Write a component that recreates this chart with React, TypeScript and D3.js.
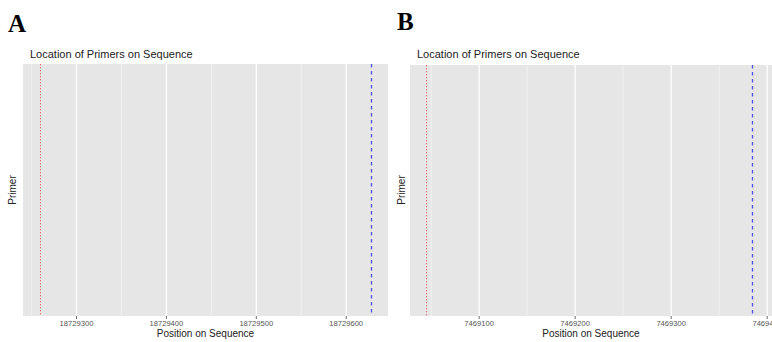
import React from "react";
import * as d3 from "d3";

const panelLabels = ["A", "B"];
const chartTitle = "Location of Primers on Sequence";
const xTitle = "Position on Sequence";
const yTitle = "Primer";
const ticksA = [18729300, 18729400, 18729500, 18729600];
const minorA = [18729250, 18729350, 18729450, 18729550];
const ticksB = [7469100, 7469200, 7469300, 7469400];
const minorB = [7469050, 7469150, 7469250, 7469350];
const forwardPos = [18729259, 7469045];
const reversePos = [18729628, 7469384];
const domainA = [18729240.5, 18729646.5];
const domainB = [7469028, 7469405];

type PanelProps = {
  label: string;
  ox: number;
  left: number;
  right: number;
  top: number;
  bottom: number;
  domain: number[];
  ticks: number[];
  minor: number[];
  fwd: number;
  rev: number;
  labelY: number;
};

const snap = (v: number) => Math.round(v) + 0.5;

function Panel(p: PanelProps) {
  const x = d3.scaleLinear().domain(p.domain).range([p.left, p.right]);
  const font = "'Liberation Sans', Arial, sans-serif";
  return (
    <g>
      <text x={p.ox + 8} y={p.labelY} fontFamily="'Liberation Serif', 'Times New Roman', serif" fontWeight="bold" fontSize={25} fill="#000">
        {p.label}
      </text>
      <text x={p.left + 7} y={58} fontFamily={font} fontSize={11} fill="#222">
        {chartTitle}
      </text>
      <rect x={p.left} y={p.top} width={p.right - p.left} height={p.bottom - p.top} fill="#e6e6e6" />
      {p.minor.map((v) => (
        <line key={"m" + v} x1={x(v)} x2={x(v)} y1={p.top} y2={p.bottom} stroke="#f3f3f3" strokeWidth={0.8} />
      ))}
      {p.ticks.map((v) => (
        <line key={"g" + v} x1={x(v)} x2={x(v)} y1={p.top} y2={p.bottom} stroke="#ffffff" strokeWidth={1.3} />
      ))}
      <line x1={snap(x(p.fwd))} x2={snap(x(p.fwd))} y1={p.top} y2={p.bottom} stroke="#e86a6a" strokeWidth={1} strokeDasharray="1.3,1.7" />
      <line x1={snap(x(p.rev))} x2={snap(x(p.rev))} y1={p.top} y2={p.bottom} stroke="#5050ee" strokeWidth={1.3} strokeDasharray="3.5,3.5" />
      {p.ticks.map((v) => (
        <g key={"t" + v}>
          <line x1={x(v)} x2={x(v)} y1={p.bottom} y2={p.bottom + 3} stroke="#444" strokeWidth={0.8} />
          <text x={x(v)} y={p.bottom + 10} textAnchor="middle" fontFamily={font} fontSize={7.6} fill="#555">
            {String(v)}
          </text>
        </g>
      ))}
      <text x={(p.left + Math.min(p.right, 772)) / 2} y={337} textAnchor="middle" fontFamily={font} fontSize={10} fill="#222">
        {xTitle}
      </text>
      <text transform={`translate(${p.ox + 16},190) rotate(-90)`} textAnchor="middle" fontFamily={font} fontSize={10} fill="#222">
        {yTitle}
      </text>
    </g>
  );
}

export default function App() {
  return (
    <svg width={772} height={342} style={{ position: "absolute", left: 0, top: 0, background: "#fff" }}>
      <rect x={0} y={0} width={772} height={342} fill="#fff" />
      <Panel label={panelLabels[0]} ox={0} left={23} right={388} top={64} bottom={316} domain={domainA} ticks={ticksA} minor={minorA} fwd={forwardPos[0]} rev={reversePos[0]} labelY={32} />
      <Panel label={panelLabels[1]} ox={389} left={410} right={772} top={65} bottom={316} domain={domainB} ticks={ticksB} minor={minorB} fwd={forwardPos[1]} rev={reversePos[1]} labelY={30} />
    </svg>
  );
}
